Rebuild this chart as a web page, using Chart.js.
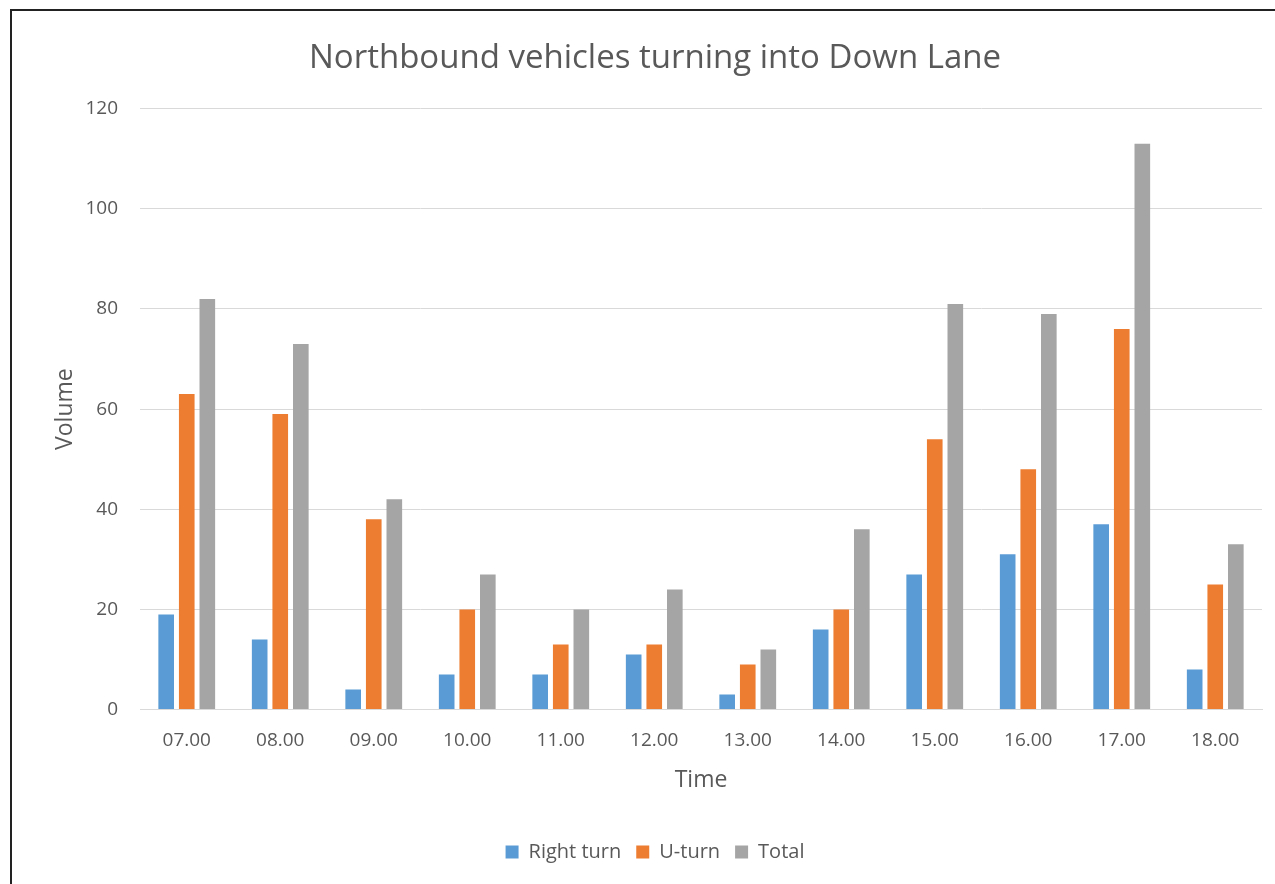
<!DOCTYPE html>
<html>
<head>
<meta charset="utf-8">
<script src="https://cdn.jsdelivr.net/npm/chart.js@4"></script>
<style>
  body { margin: 0; background: #fff; }
  #frame { position: absolute; left: 10px; top: 9px; width: 1280px; height: 890px; border: 2px solid #222; box-sizing: border-box; }
  #wrap { position: absolute; left: 0; top: 0; width: 1275px; height: 884px; }
</style>
</head>
<body>
<div id="frame"></div>
<div id="wrap"><canvas id="myChart"></canvas></div>
<script>
const times = ['07.00', '08.00', '09.00', '10.00', '11.00', '12.00', '13.00', '14.00', '15.00', '16.00', '17.00', '18.00'];
const rightTurn = [19, 14, 4, 7, 7, 11, 3, 16, 27, 31, 37, 8];
const uTurn = [63, 59, 38, 20, 13, 13, 9, 20, 54, 48, 76, 25];
const total = [82, 73, 42, 27, 20, 24, 12, 36, 81, 79, 113, 33];

const textColor = '#595959';
const font = "'Open Sans', 'Liberation Sans', sans-serif";

const ctx = document.getElementById('myChart').getContext('2d');
new Chart(ctx, {
  type: 'bar',
  data: {
    labels: times,
    datasets: [
      { label: 'Right turn', data: rightTurn, backgroundColor: '#5B9BD5' },
      { label: 'U-turn', data: uTurn, backgroundColor: '#ED7D31' },
      { label: 'Total', data: total, backgroundColor: '#A5A5A5' }
    ]
  },
  options: {
    responsive: true,
    maintainAspectRatio: false,
    animation: false,
    datasets: { bar: { categoryPercentage: 0.66, barPercentage: 0.76 } },
    layout: { padding: { top: 39, left: 48, right: 13, bottom: 12 } },
    plugins: {
      title: {
        display: true,
        text: 'Northbound vehicles turning into Down Lane',
        color: textColor,
        font: { family: font, size: 33, weight: 'normal' },
        padding: { top: 0, bottom: 30 }
      },
      legend: {
        position: 'bottom',
        labels: {
          color: textColor,
          font: { family: font, size: 20 },
          boxWidth: 13,
          boxHeight: 13,
          padding: 15
        }
      },
      tooltip: { enabled: false }
    },
    scales: {
      x: {
        grid: { display: false },
        border: { color: '#D9D9D9', width: 1 },
        ticks: { color: textColor, font: { family: font, size: 19 }, padding: 12 },
        title: { display: true, text: 'Time', color: textColor, font: { family: font, size: 23 }, padding: { top: 2, bottom: 33 } }
      },
      y: {
        min: 0,
        max: 120,
        afterFit(axis) { axis.width = 92; },
        ticks: { stepSize: 20, color: textColor, font: { family: font, size: 19 }, padding: 22 },
        grid: { color: '#D9D9D9', drawTicks: false },
        border: { display: false },
        title: { display: true, text: 'Volume', color: textColor, font: { family: font, size: 23 }, padding: { bottom: 0 } }
      }
    }
  }
});
</script>
</body>
</html>
